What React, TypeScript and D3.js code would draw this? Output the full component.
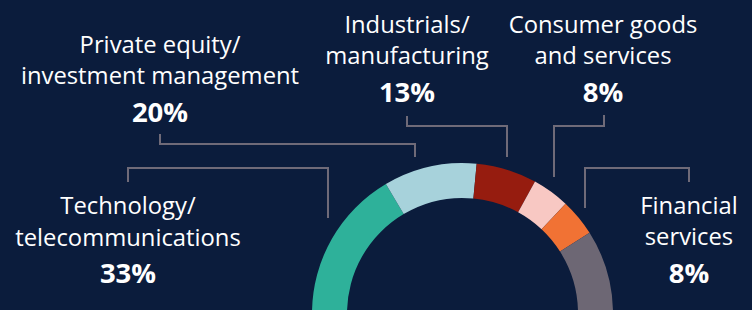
import React from "react";
import * as d3 from "d3";

const categories = [
  "Technology/telecommunications",
  "Private equity/investment management",
  "Industrials/manufacturing",
  "Consumer goods and services",
  "Financial services",
  "Other",
];
const values = [33, 20, 13, 8, 8, 18];
const colors = ["#2eb19a", "#a7d2db", "#961c0f", "#f8c8c3", "#f17234", "#6d6774"];

// label text lines (first lines regular, last the percentage)
const labelLines: string[][] = [
  ["Technology/", "telecommunications"],
  ["Private equity/", "investment management"],
  ["Industrials/", "manufacturing"],
  ["Consumer goods", "and services"],
  ["Financial", "services"],
];
const pctLabels = ["33%", "20%", "13%", "8%", "8%"];

// layout: label center x, first baseline y, leader polyline
const labelLayout = [
  { x: 128, y: 214, line: [[128, 182], [128, 168], [328, 168], [328, 218]] },
  { x: 160, y: 52.5, line: [[160, 134], [160, 144], [415, 144], [415, 157]] },
  { x: 407, y: 32.5, line: [[407, 116], [407, 126], [507, 126], [507, 157]] },
  { x: 603, y: 32.5, line: [[604, 115], [604, 126], [554, 126], [554, 177]] },
  { x: 689, y: 213.5, line: [[689, 182], [689, 168], [585, 168], [585, 208]] },
];

const W = 752;
const H = 310;
const cx = 462.5;
const cy = 313.5;
const rOuter = 150.5;
const rInner = 115.5;
const FONT = "'Open Sans', sans-serif";

export default function App() {
  const pie = d3
    .pie<number>()
    .sort(null)
    .value((d) => d)
    .startAngle(-Math.PI / 2)
    .endAngle(Math.PI / 2);
  const arcs = pie(values);
  const arc = d3.arc<d3.PieArcDatum<number>>().innerRadius(rInner).outerRadius(rOuter);
  const line = d3.line();

  return (
    <svg
      width={W}
      height={H}
      style={{ position: "absolute", left: 0, top: 0, display: "block" }}
    >
      <rect x={0} y={0} width={W} height={H} fill="#0b1c3c" />
      <g transform={`translate(${cx},${cy})`}>
        {arcs.map((a, i) => (
          <path key={categories[i]} d={arc(a) || ""} fill={colors[i]} />
        ))}
      </g>
      {labelLayout.map((l, i) => (
        <g key={i}>
          <path
            d={line(l.line as [number, number][]) || ""}
            fill="none"
            stroke="#6f6a78"
            strokeWidth={2}
          />
          {labelLines[i].map((t, j) => (
            <text
              key={j}
              x={l.x}
              y={l.y + j * 31.5}
              textAnchor="middle"
              fill="#ffffff"
              fontFamily={FONT}
              fontSize={23.8}
            >
              {t}
            </text>
          ))}
          <text
            x={l.x}
            y={l.y + 31.5 + 37.5}
            textAnchor="middle"
            fill="#ffffff"
            fontFamily={FONT}
            fontWeight={700}
            fontSize={27.5}
          >
            {pctLabels[i]}
          </text>
        </g>
      ))}
    </svg>
  );
}
